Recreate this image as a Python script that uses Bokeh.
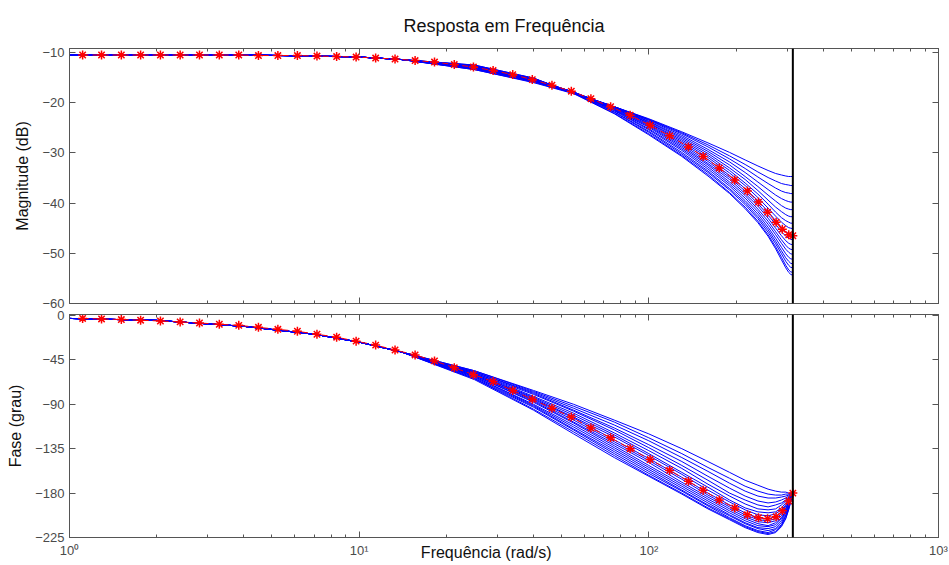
from bokeh.plotting import figure
from bokeh.layouts import column
from bokeh.models import Span, FixedTicker, LogAxis, LinearAxis, Range1d
from bokeh.embed import file_html
from bokeh.resources import INLINE

# ---- data ----
nyquist = 314.16

freq_shared = [1, 2, 4, 7, 10, 14]
mag_shared = [-10.5, -10.5, -10.5, -10.7, -10.9, -11.4]
phase_shared = [-3, -5, -11, -19, -27, -37]

freq_tail = [25, 40, 55, 76, 100, 130, 160, 190, 215, 238, 258, 274, 287, 297, 304, 309, 314.16]

mag_tails = [
    [-13.4, -16.0, -18.2, -20.8, -23.2, -25.8, -28.0, -29.9, -31.4, -32.6, -33.5, -34.1, -34.4, -34.6, -34.7, -34.7, -34.7],
    [-13.4, -15.9, -18.1, -20.8, -23.3, -26.0, -28.4, -30.6, -32.3, -33.8, -34.9, -35.6, -36.1, -36.3, -36.4, -36.5, -36.5],
    [-13.3, -15.8, -18.1, -20.8, -23.4, -26.2, -28.8, -31.2, -33.1, -34.8, -36.1, -37.0, -37.6, -37.9, -38.0, -38.1, -38.1],
    [-13.2, -15.7, -18.0, -20.8, -23.5, -26.5, -29.3, -31.8, -33.9, -35.8, -37.3, -38.4, -39.1, -39.5, -39.7, -39.8, -39.8],
    [-13.2, -15.7, -18.0, -20.8, -23.7, -26.8, -29.7, -32.4, -34.7, -36.7, -38.4, -39.6, -40.5, -41.0, -41.2, -41.3, -41.3],
    [-13.1, -15.6, -18.0, -20.9, -23.8, -27.1, -30.1, -33.0, -35.3, -37.5, -39.4, -40.8, -41.7, -42.3, -42.6, -42.7, -42.7],
    [-13.1, -15.6, -17.9, -20.9, -24.0, -27.4, -30.5, -33.5, -36.0, -38.2, -40.2, -41.8, -42.9, -43.5, -43.8, -44.0, -44.0],
    [-13.0, -15.5, -17.9, -21.0, -24.1, -27.7, -30.9, -34.0, -36.5, -38.9, -41.0, -42.6, -43.8, -44.5, -44.9, -45.0, -45.1],
    [-13.0, -15.5, -17.9, -21.1, -24.3, -28.0, -31.3, -34.5, -37.1, -39.5, -41.7, -43.5, -44.8, -45.7, -46.1, -46.2, -46.3],
    [-12.9, -15.4, -17.9, -21.2, -24.5, -28.3, -31.7, -34.9, -37.6, -40.1, -42.4, -44.2, -45.7, -46.6, -47.0, -47.2, -47.3],
    [-12.8, -15.4, -17.9, -21.3, -24.7, -28.6, -32.1, -35.3, -38.1, -40.6, -43.0, -45.0, -46.5, -47.5, -48.0, -48.2, -48.3],
    [-12.8, -15.3, -17.9, -21.4, -24.9, -28.9, -32.4, -35.8, -38.5, -41.2, -43.6, -45.7, -47.3, -48.4, -49.0, -49.2, -49.3],
    [-12.7, -15.3, -17.9, -21.5, -25.2, -29.2, -32.8, -36.2, -39.0, -41.7, -44.2, -46.3, -48.0, -49.2, -49.8, -50.1, -50.2],
    [-12.7, -15.2, -18.0, -21.6, -25.4, -29.5, -33.2, -36.6, -39.5, -42.2, -44.8, -47.0, -48.8, -50.1, -50.8, -51.1, -51.2],
    [-12.6, -15.2, -18.0, -21.8, -25.7, -29.9, -33.6, -37.1, -39.9, -42.7, -45.3, -47.6, -49.5, -50.9, -51.6, -52.0, -52.1],
    [-12.6, -15.2, -18.1, -21.9, -25.9, -30.2, -33.9, -37.4, -40.3, -43.1, -45.8, -48.1, -50.1, -51.6, -52.4, -52.8, -52.9],
    [-12.5, -15.1, -18.1, -22.1, -26.2, -30.5, -34.3, -37.9, -40.8, -43.6, -46.3, -48.7, -50.8, -52.4, -53.3, -53.7, -53.8],
    [-12.5, -15.1, -18.2, -22.2, -26.4, -30.7, -34.6, -38.1, -41.1, -43.9, -46.6, -49.1, -51.3, -52.9, -53.8, -54.2, -54.4],
]

phase_tails = [
    [-56, -76, -90, -106, -120, -135, -148, -159, -167, -172, -176, -178, -179, -179, -180, -180, -180],
    [-56, -77, -92, -108, -124, -140, -154, -165, -173, -178, -181, -182, -182, -181, -181, -180, -180],
    [-57, -78, -94, -111, -127, -144, -158, -170, -178, -183, -185, -185, -184, -183, -182, -181, -180],
    [-57, -79, -96, -114, -131, -148, -163, -175, -183, -188, -190, -189, -187, -185, -183, -182, -180],
    [-58, -80, -97, -116, -134, -152, -167, -180, -187, -192, -194, -192, -190, -187, -184, -182, -180],
    [-58, -82, -99, -119, -137, -155, -171, -183, -191, -196, -197, -196, -192, -188, -185, -183, -180],
    [-59, -83, -101, -121, -140, -159, -174, -187, -195, -199, -200, -199, -195, -190, -186, -183, -180],
    [-59, -84, -103, -123, -142, -161, -177, -189, -197, -202, -203, -201, -197, -192, -187, -184, -180],
    [-60, -85, -104, -126, -145, -164, -180, -192, -200, -205, -206, -204, -199, -193, -188, -184, -180],
    [-60, -86, -106, -128, -147, -166, -182, -194, -202, -207, -208, -206, -201, -195, -189, -185, -180],
    [-61, -87, -108, -130, -149, -169, -184, -196, -204, -209, -210, -208, -203, -196, -190, -185, -180],
    [-61, -88, -109, -132, -152, -171, -186, -198, -206, -211, -213, -210, -205, -198, -191, -186, -180],
    [-62, -90, -111, -134, -154, -173, -188, -200, -208, -213, -214, -212, -206, -199, -192, -186, -180],
    [-62, -91, -113, -136, -156, -175, -190, -202, -210, -215, -216, -214, -208, -200, -193, -187, -180],
    [-63, -92, -115, -138, -158, -177, -192, -203, -211, -216, -218, -216, -210, -202, -194, -187, -180],
    [-64, -93, -116, -140, -160, -178, -193, -205, -213, -218, -220, -217, -212, -203, -195, -188, -180],
    [-64, -95, -118, -142, -162, -180, -195, -206, -214, -219, -221, -219, -213, -205, -196, -188, -180],
    [-65, -96, -120, -144, -163, -181, -196, -207, -215, -220, -222, -220, -214, -206, -197, -189, -180],
]

marker_freq = [1.11, 1.29, 1.51, 1.76, 2.06, 2.41, 2.81, 3.29, 3.84, 4.49, 5.24, 6.12, 7.15, 8.36,
               9.76, 11.4, 13.3, 15.6, 18.2, 21.3, 24.8, 29.0, 33.9, 39.6, 46.3, 54.0, 63.1, 73.8,
               86.2, 101, 118, 137, 154, 175, 198, 219, 239, 257, 275, 289, 304, 314.16]
marker_mag = [-10.5, -10.5, -10.5, -10.5, -10.5, -10.5, -10.5, -10.5, -10.5, -10.6, -10.6, -10.6,
              -10.7, -10.8, -10.9, -11.1, -11.3, -11.6, -11.9, -12.4, -12.9, -13.6, -14.4, -15.4,
              -16.5, -17.7, -19.2, -20.8, -22.5, -24.5, -26.6, -28.8, -30.7, -33.0, -35.4, -37.6,
              -39.8, -41.8, -43.8, -45.2, -46.3, -46.5]
marker_phase = [-3.0, -3.5, -4.1, -4.8, -5.6, -6.5, -7.6, -8.9, -10, -12, -14, -16, -19, -22, -26,
                -30, -35, -40, -46, -53, -60, -67, -76, -85, -94, -103, -114, -124, -135, -146,
                -157, -168, -177, -187, -195, -202, -205, -206, -204, -198, -188, -180]

mag_ticks = [-60, -50, -40, -30, -20, -10]
mag_tick_labels = ["−60", "−50", "−40", "−30", "−20", "−10"]
phase_ticks = [-225, -180, -135, -90, -45, 0]
phase_tick_labels = ["−225", "−180", "−135", "−90", "−45", "0"]
x_ticks = [1, 10, 100, 1000]
x_tick_labels = ["10⁰", "10¹", "10²", "10³"]
x_minor = [m * d for d in (1, 10, 100) for m in range(2, 10)]

# ---- styling ----
FONT = "Liberation Sans"
TICKC = "#4a4a4a"
AXC = "#555555"


def style_axis(ax, labels=True):
    ax.axis_line_color = AXC
    ax.major_tick_line_color = AXC
    ax.minor_tick_line_color = AXC
    ax.major_tick_in = 6
    ax.major_tick_out = 0
    ax.minor_tick_in = 3
    ax.minor_tick_out = 0
    ax.major_label_text_font = FONT
    ax.major_label_text_color = TICKC
    ax.major_label_text_font_size = "13px"
    if not labels:
        ax.major_label_text_font_size = "1px"
        ax.major_label_text_alpha = 0
        ax.major_label_standoff = 0


def make(height, yr, yticks, ylabels, bt, bb, show_x):
    p = figure(width=949, height=height, x_axis_type="log", x_range=Range1d(1, 1000),
               y_range=Range1d(*yr), output_backend="svg", toolbar_location=None,
               min_border_left=69, min_border_right=11, min_border_top=bt, min_border_bottom=bb)
    p.grid.visible = False
    p.outline_line_color = AXC
    xt = FixedTicker(ticks=x_ticks, minor_ticks=x_minor)
    p.xaxis.ticker = xt
    p.yaxis.ticker = FixedTicker(ticks=yticks, minor_ticks=[])
    p.yaxis.major_label_overrides = {v: l for v, l in zip(yticks, ylabels)}
    p.xaxis.major_label_overrides = {v: l for v, l in zip(x_ticks, x_tick_labels)}
    for ax in p.xaxis:
        style_axis(ax, show_x)
    for ax in p.yaxis:
        style_axis(ax, True)
        ax.axis_label_text_font = FONT
        ax.axis_label_text_font_style = "normal"
        ax.axis_label_text_font_size = "16px"
        ax.axis_label_text_color = "#111111"
        ax.axis_label_standoff = 8
    ta = LogAxis(ticker=xt)
    style_axis(ta, False)
    p.add_layout(ta, "above")
    ra = LinearAxis(ticker=FixedTicker(ticks=yticks, minor_ticks=[]))
    style_axis(ra, False)
    p.add_layout(ra, "right")
    return p


p1 = make(312, (-60, -9.2), mag_ticks, mag_tick_labels, 48, 9, False)
p2 = make(263, (-225, 1), phase_ticks, phase_tick_labels, 12, 28, True)
p2.margin = (-10, 0, 0, 0)
p2.border_fill_color = None

p1.yaxis[0].axis_label = "Magnitude (dB)"
p2.yaxis[0].axis_label = "Fase (grau)"
xa = p2.below[0]
xa.axis_label = "Frequência  (rad/s)" + "\u00a0" * 7
xa.axis_label_text_font = FONT
xa.axis_label_text_font_style = "normal"
xa.axis_label_text_font_size = "16px"
xa.axis_label_text_color = "#111111"
xa.axis_label_standoff = -17

p1.title.text = "Resposta em Frequência"
p1.title.align = "center"
p1.title.text_font = FONT
p1.title.text_font_style = "normal"
p1.title.text_font_size = "18px"
p1.title.text_color = "#111111"
p1.title.standoff = 26

freq_curve = freq_shared + freq_tail
for mt, pt in zip(mag_tails, phase_tails):
    p1.line(freq_curve, mag_shared + mt, line_color="#0000ff", line_width=1)
    p2.line(freq_curve, phase_shared + pt, line_color="#0000ff", line_width=1)

for p, yv in ((p1, marker_mag), (p2, marker_phase)):
    p.line(marker_freq, yv, line_color="red", line_dash="6 4", line_width=1)
    p.scatter(marker_freq, yv, marker="asterisk", size=9, line_color="red", line_width=1.5)
    p.add_layout(Span(location=nyquist, dimension="height", line_color="black", line_width=2))

layout = column(p1, p2, spacing=0)
open("out.html", "w").write(file_html(layout, INLINE))
